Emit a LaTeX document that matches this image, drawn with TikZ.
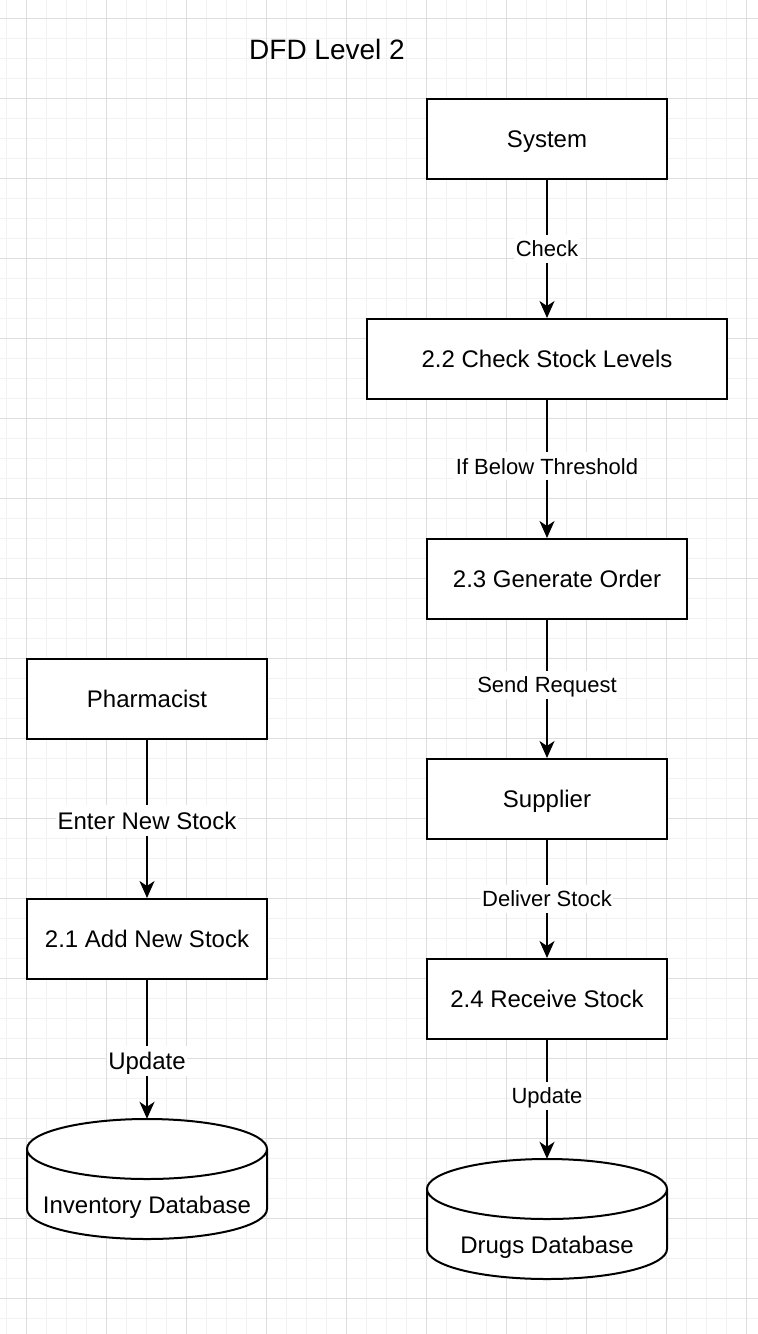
\documentclass[tikz,border=0pt]{standalone}
\usepackage{fontspec}
\setmainfont{Liberation Sans}
\usetikzlibrary{arrows.meta}
\definecolor{gridminor}{HTML}{F2F2F2}
\definecolor{gridmajor}{HTML}{DEDEDE}
\begin{document}
\begin{tikzpicture}[x=1pt,y=-1pt,
  box/.style={draw,line width=2pt,fill=white,minimum width=240pt,minimum height=80pt,inner sep=0pt,font=\fontsize{24}{28}\selectfont,text height=22.2pt,text depth=5pt},
  flow/.style={line width=2pt,-{Stealth[length=17pt,width=15pt,inset=5pt]}},
  lbl/.style={fill=white,inner sep=1.5pt,font=\fontsize{22}{26}\selectfont,text height=20.4pt,text depth=4.6pt},
  lblbig/.style={lbl,font=\fontsize{24}{28}\selectfont,text height=22.2pt,text depth=5pt},
  dbtext/.style={font=\fontsize{24}{28}\selectfont,inner sep=0pt,text height=22.2pt,text depth=5pt},
  cyl/.style={draw,line width=2pt,fill=white}]
% background and grid
\fill[white] (0,0) rectangle (758,1334);
\useasboundingbox (0,0) rectangle (758,1334);
\foreach \k in {0,...,37} {\draw[gridminor,line width=1pt] (6.7+20*\k,0) -- (6.7+20*\k,1334);}
\foreach \k in {0,...,66} {\draw[gridminor,line width=1pt] (0,18.3+20*\k) -- (758,18.3+20*\k);}
\foreach \k in {0,...,9} {\draw[gridmajor,line width=1pt] (26.7+80*\k,0) -- (26.7+80*\k,1334);}
\foreach \k in {0,...,16} {\draw[gridmajor,line width=1pt] (0,18.3+80*\k) -- (758,18.3+80*\k);}
% title
\node[font=\fontsize{28}{32}\selectfont] (title) at (327,49) {DFD Level 2};
% boxes
\node[box] (sys) at (547,139) {System};
\node[box,minimum width=360pt] (s22) at (547,359) {2.2 Check Stock Levels};
\node[box,minimum width=260pt] (s23) at (557,579) {2.3 Generate Order};
\node[box] (ph) at (147,699) {Pharmacist};
\node[box] (sup) at (547,799) {Supplier};
\node[box] (s21) at (147,939) {2.1 Add New Stock};
\node[box] (s24) at (547,999) {2.4 Receive Stock};
% cylinders
\node[minimum width=240pt,minimum height=120pt,inner sep=0pt] (inv) at (147,1179) {};
\node[minimum width=240pt,minimum height=120pt,inner sep=0pt] (drugs) at (547,1219) {};
\draw[cyl] (27,1149) -- (27,1209) arc[start angle=180,end angle=360,x radius=120pt,y radius=30pt] -- (267,1149);
\draw[cyl] (147,1149) ellipse[x radius=120pt,y radius=30pt];
\draw[cyl] (427,1189) -- (427,1249) arc[start angle=180,end angle=360,x radius=120pt,y radius=30pt] -- (667,1189);
\draw[cyl] (547,1189) ellipse[x radius=120pt,y radius=30pt];
\node[dbtext] (invt) at (147,1205) {Inventory Database};
\node[dbtext] (drugst) at (547,1245) {Drugs Database};
% flows
\draw[flow] (sys.south) -- (s22.north) node[lbl,pos=0.5] {Check};
\draw[flow] (s22.south) -- (s22.south |- s23.north) node[lbl,pos=0.48] {If Below Threshold};
\draw[flow] (s22.south |- s23.south) -- (sup.north) node[lbl,pos=0.47] {Send Request};
\draw[flow] (ph.south) -- (s21.north) node[lblbig,pos=0.51] {Enter New Stock};
\draw[flow] (s21.south) -- (inv.north) node[lblbig,pos=0.585] {Update};
\draw[flow] (sup.south) -- (s24.north) node[lbl,pos=0.5] {Deliver Stock};
\draw[flow] (s24.south) -- (drugs.north) node[lbl,pos=0.47] {Update};
\end{tikzpicture}
\end{document}
